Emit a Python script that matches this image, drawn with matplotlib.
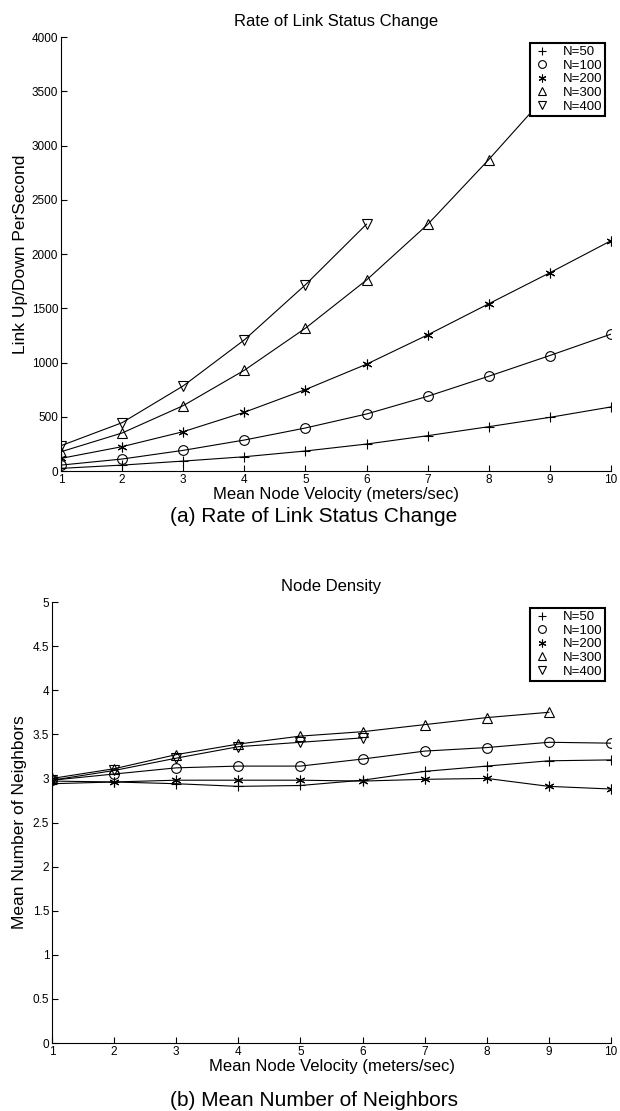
import matplotlib
matplotlib.use('Agg')
import matplotlib.pyplot as plt
from matplotlib.ticker import FormatStrFormatter

plt.rcParams['font.family'] = ['Liberation Sans', 'DejaVu Sans']

# ---- data ----
velocity = [1, 2, 3, 4, 5, 6, 7, 8, 9, 10]
series_labels = ['N=50', 'N=100', 'N=200', 'N=300', 'N=400']

# (a) link up/down per second
rate_n50 = [25, 55, 92, 132, 185, 249, 326, 409, 495, 591]
rate_n100 = [55, 111, 191, 286, 397, 526, 689, 874, 1065, 1262]
rate_n200 = [117, 225, 363, 542, 751, 985, 1255, 1542, 1828, 2123]
rate_n300 = [178, 351, 603, 929, 1317, 1761, 2273, 2871, 3500]
rate_n400 = [234, 446, 785, 1209, 1717, 2276]

# (b) mean number of neighbors
nbr_n50 = [2.94, 2.96, 2.94, 2.91, 2.92, 2.98, 3.08, 3.14, 3.20, 3.21]
nbr_n100 = [2.98, 3.05, 3.12, 3.14, 3.14, 3.22, 3.31, 3.35, 3.41, 3.40]
nbr_n200 = [2.97, 2.96, 2.98, 2.98, 2.98, 2.97, 2.99, 3.00, 2.91, 2.88]
nbr_n300 = [3.00, 3.11, 3.27, 3.39, 3.48, 3.53, 3.61, 3.69, 3.75]
nbr_n400 = [2.98, 3.09, 3.23, 3.36, 3.41, 3.46]

markers = ['+', 'o', (6, 2, 0), '^', 'v']


def draw_panel(ax, series, ylim, yticks, title, ylabel):
    for vals, lab, mk in zip(series, series_labels, markers):
        hollow = mk in ('o', '^', 'v')
        # line without marker, markers drawn on top (legend shows markers only)
        ax.plot(velocity[:len(vals)], vals, color='black', lw=0.8)
        ax.plot(velocity[:len(vals)], vals, ls='none', marker=mk, ms=7,
                mec='black', mfc='none' if hollow else 'black', mew=0.8,
                label=lab)
    ax.set_xlim(1, 10)
    ax.set_ylim(*ylim)
    ax.set_xticks(velocity)
    ax.set_yticks(yticks)
    ax.yaxis.set_major_formatter(FormatStrFormatter('%g'))
    ax.spines['top'].set_visible(False)
    ax.spines['right'].set_visible(False)
    for s in ('left', 'bottom'):
        ax.spines[s].set_linewidth(0.8)
    ax.tick_params(direction='in', length=4, width=0.8, labelsize=8.5, pad=2)
    ax.set_title(title, fontsize=12, pad=8)
    ax.set_xlabel('Mean Node Velocity (meters/sec)', fontsize=12, labelpad=1)
    ax.set_ylabel(ylabel, fontsize=12.5)
    leg = ax.legend(loc='upper right', bbox_to_anchor=(0.99, 0.987),
                    fontsize=9.5, frameon=True, fancybox=False, framealpha=1,
                    edgecolor='black', handlelength=1.3, handletextpad=0.9,
                    borderpad=0.25, labelspacing=0.1, borderaxespad=0,
                    markerscale=0.8)
    leg.get_frame().set_linewidth(1.5)
    return ax


fig = plt.figure(figsize=(6.2, 11.11), dpi=100)

ax1 = fig.add_axes([0.0984, 0.576, 0.887, 0.3906])
draw_panel(ax1, [rate_n50, rate_n100, rate_n200, rate_n300, rate_n400],
           (0, 4000), range(0, 4001, 500),
           'Rate of Link Status Change', 'Link Up/Down PerSecond')
ax1.yaxis.set_label_coords(-0.06, 0.5)

ax2 = fig.add_axes([0.0839, 0.0612, 0.9016, 0.3969])
draw_panel(ax2, [nbr_n50, nbr_n100, nbr_n200, nbr_n300, nbr_n400],
           (0, 5), [i * 0.5 for i in range(11)],
           'Node Density', 'Mean Number of Neighbors')
ax2.yaxis.set_label_coords(-0.044, 0.5)

fig.text(0.506, 1 - 517 / 1111, '(a) Rate of Link Status Change',
         ha='center', va='center', fontsize=15)
fig.text(0.506, 1 - 1100 / 1111, '(b) Mean Number of Neighbors',
         ha='center', va='center', fontsize=15)

fig.savefig('out.png', dpi=100)
